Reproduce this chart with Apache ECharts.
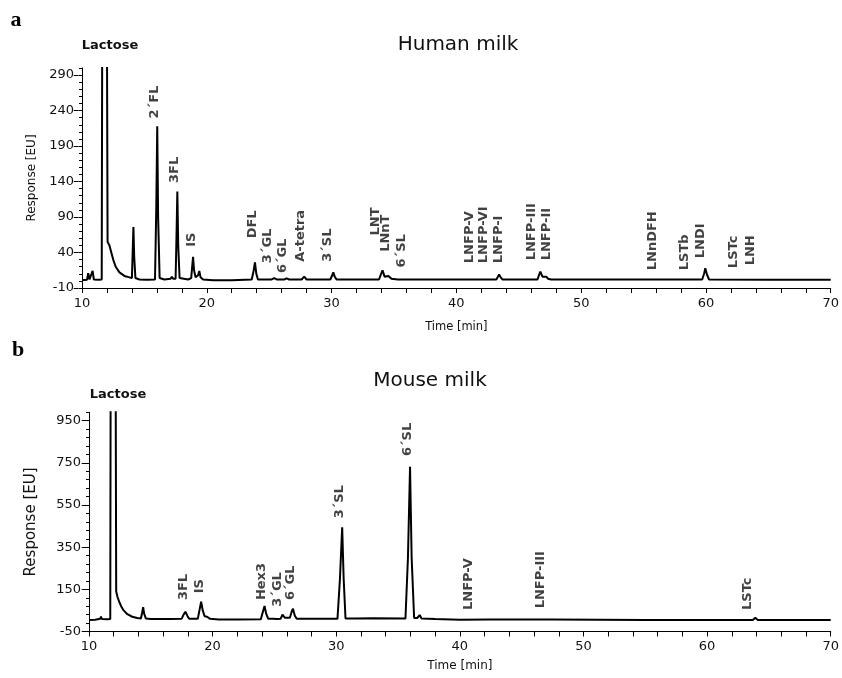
<!DOCTYPE html>
<html><head><meta charset="utf-8">
<script src="https://cdn.jsdelivr.net/npm/echarts@6/dist/echarts.min.js"></script>
<style>html,body{margin:0;padding:0;background:#fff}#c{width:842px;height:678px}</style>
</head><body><div id="c"></div>
<script>
// ---- Human milk chromatogram (time [min], response [EU]) ----
const humanTime = [10.0,10.4,10.5,10.6,10.75,10.85,10.95,11.3,11.58,
 11.66,11.94,12.05,12.2,12.35,12.5,12.7,13.0,13.4,13.8,14.0,14.06,14.12,14.18,14.28,14.6,15.2,
 15.85,15.95,16.03,16.1,16.22,16.6,17.1,17.2,17.3,17.5,17.57,17.64,17.71,17.82,18.5,18.75,18.83,18.9,18.98,19.1,19.3,19.4,19.5,19.7,20.5,22.0,
 23.6,23.75,23.86,23.97,24.1,25.2,25.4,25.6,26.2,26.4,26.6,27.6,27.8,28.0,29.9,30.05,30.14,30.25,30.4,
 33.8,33.95,34.08,34.25,34.4,34.55,34.68,34.8,35.3,35.45,35.6,40.0,41.5,41.65,41.8,43.2,43.33,43.42,43.55,43.7,
 46.5,46.62,46.73,46.9,47.05,47.2,47.35,47.6,56.2,56.35,56.5,56.8,56.95,57.1,59.7,59.85,59.95,60.08,60.25,65.0,70.0];
const humanResp = [1,1.5,11,2,3,14,2,1.5,2,
 700,700,55,50,40,30,20,12,7,5,4,40,76,35,4,2,1.5,
 2,100,218,90,4,2,3,6,3,3,60,126,50,4,2,4,20,34,15,5,8,14,5,2,1,1,
 2,14,26,10,2,2,4,2,2,3.5,2,2,6,2,2,8,12,6,2,
 2,9,15,6,4,7,8,3,2,4,2,2,2,3,2,2,6,9,5,2,
 2,8,13,6,5,6,3,2,2,3,2,2,3,2,2,10,18,9,2,1.5,1.5];

// ---- Mouse milk chromatogram ----
const mouseTime = [10.0,10.5,10.6,10.7,10.9,10.97,11.05,11.5,11.72,
 11.8,12.08,12.2,12.3,12.45,12.6,12.8,13.1,13.5,13.9,14.2,14.3,14.38,14.46,14.6,15.0,16.5,
 17.5,17.65,17.8,17.95,18.1,18.8,18.95,19.07,19.2,19.35,19.55,19.65,19.8,20.5,22.0,
 23.9,24.05,24.2,24.33,24.5,24.9,25.05,25.2,25.5,25.65,25.72,25.85,26.25,26.4,26.5,26.65,26.8,28.0,
 30.1,30.3,30.48,30.6,30.75,31.5,33.0,35.6,35.8,35.97,36.1,36.3,36.55,36.75,36.9,38.0,40.0,
 42.3,42.4,42.5,47.2,47.3,47.4,55.0,63.7,63.9,64.1,70.0];
const mouseResp = [5,6,15,8,10,20,9,8,9,
 3000,3000,140,115,90,70,50,32,20,14,12,40,65,35,12,9,9,
 11,30,44,25,10,10,55,91,50,22,20,23,10,7,7,
 8,40,71,35,10,10,16,9,10,30,39,15,15,45,58,25,10,10,
 10,200,444,200,12,12,13,12,300,732,300,14,14,28,12,9,6,
 7,10,7,7,10,7,5,5,15,5,5];

// ---- Peak annotations (name, time, response at text start) ----
const humanLabelNames = ['2´FL','3FL','IS','DFL','3´GL','6´GL','A-tetra','3´SL','LNT','LNnT','6´SL',
 'LNFP-V','LNFP-VI','LNFP-I','LNFP-III','LNFP-II','LNnDFH','LSTb','LNDI','LSTc','LNH'];
const humanLabelTime = [15.83,17.42,18.78,23.65,24.84,26.04,27.53,29.71,33.52,34.32,35.64,
 41.05,42.22,43.36,46.02,47.21,55.73,58.26,59.59,62.25,63.58];
const humanLabelResp = [229,138,48,60,25,11,27,27,64,41,19,
 25,25,25,29,29,15,15,32,18,22];

const mouseLabelNames = ['3FL','IS','Hex3','3´GL','6´GL','3´SL','6´SL','LNFP-V','LNFP-III','LSTc'];
const mouseLabelTime = [17.69,18.95,23.93,25.27,26.35,30.24,35.75,40.67,46.51,63.31];
const mouseLabelResp = [99,131,99,68,99,487,783,52,60,52];

// ---- Axis ticks ----
const xTicks = [10,20,30,40,50,60,70];
const humanYTicks = [-10,40,90,140,190,240,290];
const mouseYTicks = [-50,150,350,550,750,950];
const humanYMinorStep = 10, mouseYMinorStep = 40;

function minorList(min, max, step){ const a=[]; for(let v=min; v<=max+1e-9; v+=step) a.push(v); return a; }
const humanMinor = minorList(-10, 300, humanYMinorStep);
const mouseMinor = minorList(-50, 990, mouseYMinorStep);

const FONT = 'DejaVu Sans';
const txt = '#111';

function xAxisCfg(grid){
  return {gridIndex:grid, type:'value', min:xTicks[0], max:xTicks[xTicks.length-1], interval:10,
    axisLine:{show:true,onZero:false,lineStyle:{color:'#000',width:1}},
    axisTick:{show:true,length:5,lineStyle:{color:'#000'}},
    minorTick:{show:true,splitNumber:5,length:5,lineStyle:{color:'#000'}},
    axisLabel:{fontSize:13,color:txt,fontFamily:FONT,margin:9},
    splitLine:{show:false}, minorSplitLine:{show:false},
    name:'Time [min]', nameLocation:'middle', nameGap: grid===0?33:28,
    nameTextStyle:{fontSize:grid===0?11.5:12,color:txt,fontFamily:FONT}};
}
// main y axis: line, labels, short ticks at every minor step
function yAxisMain(grid,min,max,ticks,minor,nameSize,gap){
  return {gridIndex:grid, type:'value', position:'left', min:min, max:max,
    axisLine:{show:true,onZero:false,lineStyle:{color:'#000',width:1}},
    axisTick:{show:true,length:3,customValues:minor,lineStyle:{color:'#000'}},
    axisLabel:{customValues:ticks,fontSize:13,color:txt,fontFamily:FONT,margin:8},
    splitLine:{show:false},
    name:'Response [EU]', nameLocation:'middle', nameGap:gap,
    nameTextStyle:{fontSize:nameSize,color:txt,fontFamily:FONT}};
}
// helper axis placed over the left edge: longer ticks at the labelled values
function yAxisMajor(grid,min,max,ticks,width){
  return {gridIndex:grid, type:'value', position:'right', offset:-width, min:min, max:max,
    axisLine:{show:false}, axisTick:{show:true,inside:true,length:5,customValues:ticks,lineStyle:{color:'#000'}},
    axisLabel:{show:false}, splitLine:{show:false}};
}
function zip(a,b){ return a.map((v,i)=>[v,b[i]]); }
function labelSeries(names,times,resps,xi,yi){
  return {type:'scatter', xAxisIndex:xi, yAxisIndex:yi, symbolSize:0, silent:true, z:5,
    data:names.map((n,i)=>({name:n,value:[times[i],resps[i]]})),
    label:{show:true, position:'inside', formatter:'{b}', rotate:90, align:'left', verticalAlign:'middle',
      fontSize:13, fontWeight:'bold', color:txt, fontFamily:FONT}};
}

const W = 842;
const g0 = {left:82,right:8,top:68,height:220};
const g1 = {left:89,right:9,top:412.3,height:219.2};

const chart = echarts.init(document.getElementById('c'), null, {renderer:'canvas'});
chart.setOption({
  animation:false,
  backgroundColor:'#fff',
  grid:[g0,g1],
  xAxis:[xAxisCfg(0), xAxisCfg(1)],
  yAxis:[yAxisMain(0,-10,300,humanYTicks,humanMinor,12,44), yAxisMajor(0,-10,300,humanYTicks,W-g0.left-g0.right),
         yAxisMain(1,-50,990,mouseYTicks,mouseMinor,15,50), yAxisMajor(1,-50,990,mouseYTicks,W-g1.left-g1.right)],
  series:[
    {type:'line', xAxisIndex:0, yAxisIndex:0, data:zip(humanTime,humanResp), showSymbol:false, symbol:'none', clip:true,
      lineStyle:{color:'#000',width:2}},
    {type:'line', xAxisIndex:1, yAxisIndex:2, data:zip(mouseTime,mouseResp), showSymbol:false, symbol:'none', clip:true,
      lineStyle:{color:'#000',width:2}},
    labelSeries(humanLabelNames,humanLabelTime,humanLabelResp,0,0),
    labelSeries(mouseLabelNames,mouseLabelTime,mouseLabelResp,1,2)
  ],
  graphic:[
    {type:'text', x:16, y:20, style:{text:'a', font:'bold 22px "Liberation Serif"', fill:'#000', textAlign:'center', textVerticalAlign:'middle'}},
    {type:'text', x:18, y:350, style:{text:'b', font:'bold 22px "Liberation Serif"', fill:'#000', textAlign:'center', textVerticalAlign:'middle'}},
    {type:'text', x:458, y:45, style:{text:'Human milk', font:'20px "DejaVu Sans"', fill:txt, textAlign:'center', textVerticalAlign:'middle'}},
    {type:'text', x:430, y:381, style:{text:'Mouse milk', font:'20px "DejaVu Sans"', fill:txt, textAlign:'center', textVerticalAlign:'middle'}},
    {type:'text', x:110, y:46, style:{text:'Lactose', font:'bold 13px "DejaVu Sans"', fill:txt, textAlign:'center', textVerticalAlign:'middle'}},
    {type:'text', x:118, y:395, style:{text:'Lactose', font:'bold 13px "DejaVu Sans"', fill:txt, textAlign:'center', textVerticalAlign:'middle'}}
  ]
});
</script></body></html>
